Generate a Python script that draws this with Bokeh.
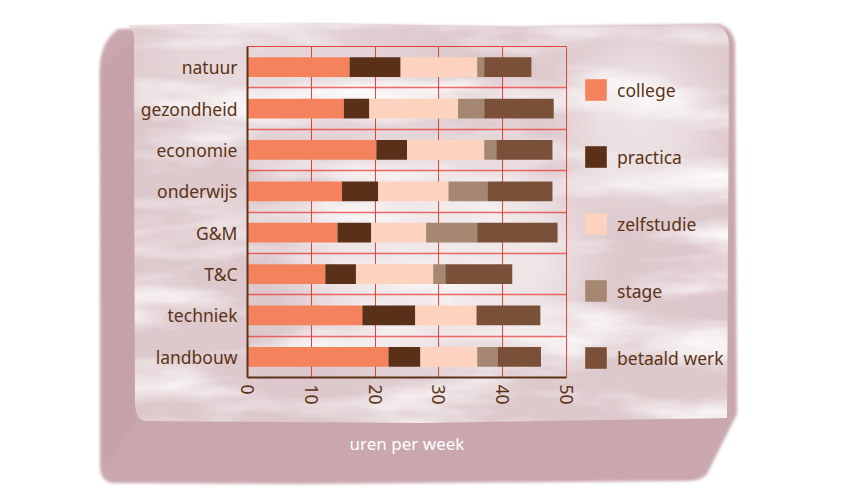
import math
from urllib.parse import quote
from bokeh.plotting import figure
from bokeh.models import Range1d, FixedTicker, Legend, LegendItem, ColumnDataSource
from bokeh.embed import file_html
from bokeh.resources import INLINE

# ---------------- data ----------------
categories = ["natuur", "gezondheid", "economie", "onderwijs", "G&M", "T&C", "techniek", "landbouw"]
college    = [16.0, 15.1, 20.2, 14.8, 14.1, 12.2, 18.0, 22.1]
practica   = [ 8.0,  4.0,  4.8,  5.7,  5.3,  4.8,  8.3,  5.0]
zelfstudie = [12.0, 13.9, 12.1, 11.0,  8.6, 12.1,  9.6,  8.9]
stage      = [ 1.1,  4.1,  1.9,  6.1,  8.0,  1.9,  0.0,  3.2]
betaald    = [ 7.4, 10.9,  8.8, 10.2, 12.6, 10.5, 10.0,  6.8]
series_names = ["college", "practica", "zelfstudie", "stage", "betaald werk"]
x_ticks = [0, 10, 20, 30, 40, 50]

colors = ["#f4825c", "#5a3018", "#fdd2be", "#a68872", "#7a5039"]
TEXT = "#5c3317"
FONT = "Noto Sans"
FS = "17.5px"

n = len(categories)
ypos = [n - i - 0.5 for i in range(n)]
source = ColumnDataSource(dict(y=ypos, college=college, practica=practica,
                               zelfstudie=zelfstudie, stage=stage, betaald=betaald))
keys = ["college", "practica", "zelfstudie", "stage", "betaald"]

# ---------------- decorative stone block (CSS background) ----------------
TOP = "M128,25 L300,23 L520,27 L716,25 Q728,28 729,44 L727,418 L420,423 L144,421 Q136,419 135,405 L134,40 Q134,29 128,25 Z"
OUTER = ("M118,29 L300,24 L520,27 L718,24 Q733,27 735,44 L737,414 L707,474 Q701,481 688,481 "
         "L300,484 L112,483 Q101,481 100,468 L100,62 Q103,40 118,29 Z")
svg = f"""<svg xmlns='http://www.w3.org/2000/svg' width='852' height='495'>
<defs>
<filter id='bl'><feGaussianBlur stdDeviation='1.5'/></filter>
<filter id='bb' x='-50%' y='-50%' width='200%' height='200%'><feGaussianBlur stdDeviation='25'/></filter>
<filter id='tw'><feTurbulence type='fractalNoise' baseFrequency='0.006 0.025' numOctaves='4' seed='5'/>
<feColorMatrix type='matrix' values='0 0 0 0 1  0 0 0 0 1  0 0 0 0 1  2.2 0 0 0 -0.95'/></filter>
<filter id='td'><feTurbulence type='fractalNoise' baseFrequency='0.012 0.02' numOctaves='3' seed='11'/>
<feColorMatrix type='matrix' values='0 0 0 0 0.72  0 0 0 0 0.55  0 0 0 0 0.6  0 2.0 0 0 -0.95'/></filter>
<clipPath id='c'><path d='{TOP}'/></clipPath>
</defs>
<path d='{OUTER}' fill='#c9a7ad' filter='url(#bl)'/>
<path d='M100,70 L134,40 L136,420 L104,470 Z' fill='#c49ea6' opacity='0.6' filter='url(#bl)'/>
<g clip-path='url(#c)'>
<rect width='852' height='495' fill='#ddc9cc'/>
<rect width='852' height='495' filter='url(#td)'/>
<rect width='852' height='495' filter='url(#tw)'/>
<ellipse cx='440' cy='255' rx='140' ry='110' fill='white' opacity='0.55' filter='url(#bb)'/>
<ellipse cx='640' cy='120' rx='70' ry='80' fill='white' opacity='0.45' filter='url(#bb)'/>
<ellipse cx='330' cy='90' rx='110' ry='50' fill='white' opacity='0.35' filter='url(#bb)'/>
<ellipse cx='200' cy='60' rx='60' ry='30' fill='white' opacity='0.35' filter='url(#bb)'/>
</g>
</svg>"""
bg_css = 'url("data:image/svg+xml,' + quote(svg) + '")'

p = figure(frame_width=319, frame_height=331, output_backend="svg", toolbar_location=None,
           x_range=Range1d(0, 50), y_range=Range1d(0, n),
           min_border_left=247, min_border_right=286, min_border_top=46, min_border_bottom=118)
p.styles = {"background-image": bg_css, "background-repeat": "no-repeat",
            "background-position": "0 0"}
p.border_fill_alpha = 0
p.background_fill_alpha = 0
p.outline_line_color = "#e8302a"
p.outline_line_width = 1
p.outline_line_alpha = 0.9

# ---------------- bars ----------------
rs = p.hbar_stack(keys, y="y", height=0.48, color=colors, line_alpha=0, source=source)

# ---------------- axes & grid ----------------
p.xaxis.ticker = FixedTicker(ticks=x_ticks)
p.xaxis.major_label_orientation = -math.pi / 2
p.yaxis.ticker = FixedTicker(ticks=ypos)
p.yaxis.major_label_overrides = {y: c for y, c in zip(ypos, categories)}
for ax in (p.xaxis, p.yaxis):
    ax.axis_line_color = TEXT
    ax.axis_line_width = 2
    ax.major_tick_line_color = None
    ax.minor_tick_line_color = None
    ax.major_label_text_font = FONT
    ax.major_label_text_font_size = FS
    ax.major_label_text_color = TEXT
p.yaxis.major_label_standoff = 4
p.xaxis.major_label_standoff = 1
p.xaxis.axis_label = "uren per week"
p.xaxis.axis_label_text_font = FONT
p.xaxis.axis_label_text_font_style = "normal"
p.xaxis.axis_label_text_font_size = "17px"
p.xaxis.axis_label_text_color = "white"
p.xaxis.axis_label_standoff = 24

p.xgrid.ticker = FixedTicker(ticks=x_ticks[1:-1])
p.xgrid.grid_line_color = "#e8302a"
p.xgrid.grid_line_alpha = 0.9
p.ygrid.ticker = FixedTicker(ticks=list(range(1, n)))
p.ygrid.grid_line_color = "#e8302a"
p.ygrid.grid_line_alpha = 0.7
p.ygrid.grid_line_width = 1.5

# ---------------- legend ----------------
legend = Legend(items=[LegendItem(label=nm, renderers=[r]) for nm, r in zip(series_names, rs)],
                location=(16, 6), orientation="vertical",
                glyph_width=27, glyph_height=27, spacing=40, label_standoff=8,
                label_text_font=FONT, label_text_font_size=FS, label_text_color=TEXT,
                border_line_alpha=0, background_fill_alpha=0, padding=0, margin=0)
p.add_layout(legend, "right")

open("out.html", "w").write(file_html(p, INLINE))
